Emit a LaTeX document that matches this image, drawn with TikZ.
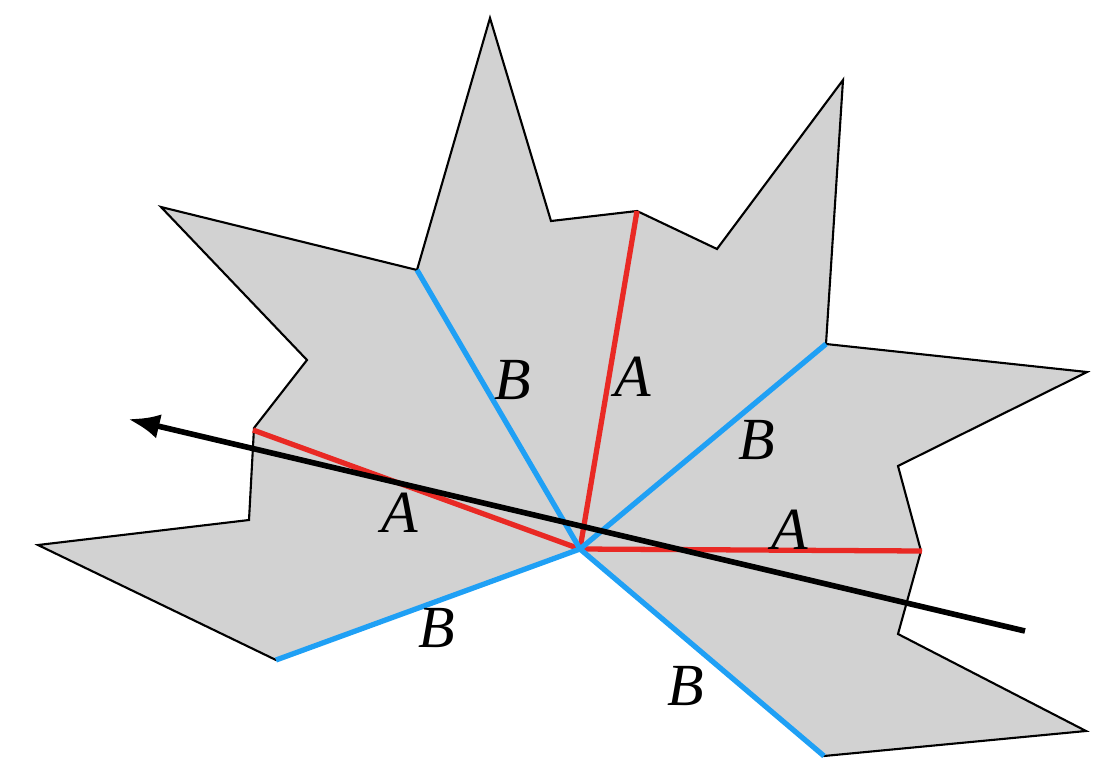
\documentclass[tikz,border=0pt]{standalone}
\usepackage{fontspec}
\setmainfont{Liberation Serif}
\usetikzlibrary{arrows.meta}
\begin{document}
\begin{tikzpicture}[x=0.01cm,y=-0.01cm,
 edge/.style={line width=1.5pt},
 redl/.style={edge,draw={rgb,255:red,233;green,41;blue,36}},
 bluel/.style={edge,draw={rgb,255:red,31;green,160;blue,245}},
 lab/.style={font=\fontsize{17}{17}\selectfont\itshape}]
\useasboundingbox (0,0) rectangle (1108,772);
\coordinate (c) at (580,549);
\fill[gray!35] (490,18) -- (551,221) -- (637,211) -- (717,249) -- (843,80) -- (826,344) -- (1087,372) -- (898,466) -- (921,551) -- (898,634) -- (1086,731) -- (824,756) -- (c) -- (276,660) -- (38,545) -- (249,520) -- (254,428) -- (307,360) -- (161,207) -- (417,270) -- cycle;
\draw[line width=0.6pt] (c) -- (824,756) -- (1086,731) -- (898,634) -- (921,551) -- (898,466) -- (1087,372) -- (826,344) -- (843,80) -- (717,249) -- (637,211) -- (551,221) -- (490,18) -- (417,270) -- (161,207) -- (307,360) -- (254,428) -- (249,520) -- (38,545) -- (276,660) -- (c);
\coordinate (r1) at (253,430); \coordinate (r2) at (637,211); \coordinate (r3) at (922,551);
\coordinate (b1) at (417,270); \coordinate (b2) at (826,344); \coordinate (b3) at (276,660); \coordinate (b4) at (824,756);
\foreach \p in {r1,r2,r3} \draw[redl] (c) -- (\p);
\foreach \p in {b1,b2,b3,b4} \draw[bluel] (c) -- (\p);
\coordinate (s) at (1025,631); \coordinate (e) at (128,419);
\draw[line width=1.6pt,-{Latex[length=9pt,width=7pt]}] (s) -- (e);
\node[lab] (l1) at (513,380) {B};
\node[lab] (l2) at (633,377) {A};
\node[lab] (l3) at (757,440) {B};
\node[lab] (l4) at (400,513) {A};
\node[lab] (l5) at (790,530) {A};
\node[lab] (l6) at (437,628) {B};
\node[lab] (l7) at (686,686) {B};
\end{tikzpicture}
\end{document}
